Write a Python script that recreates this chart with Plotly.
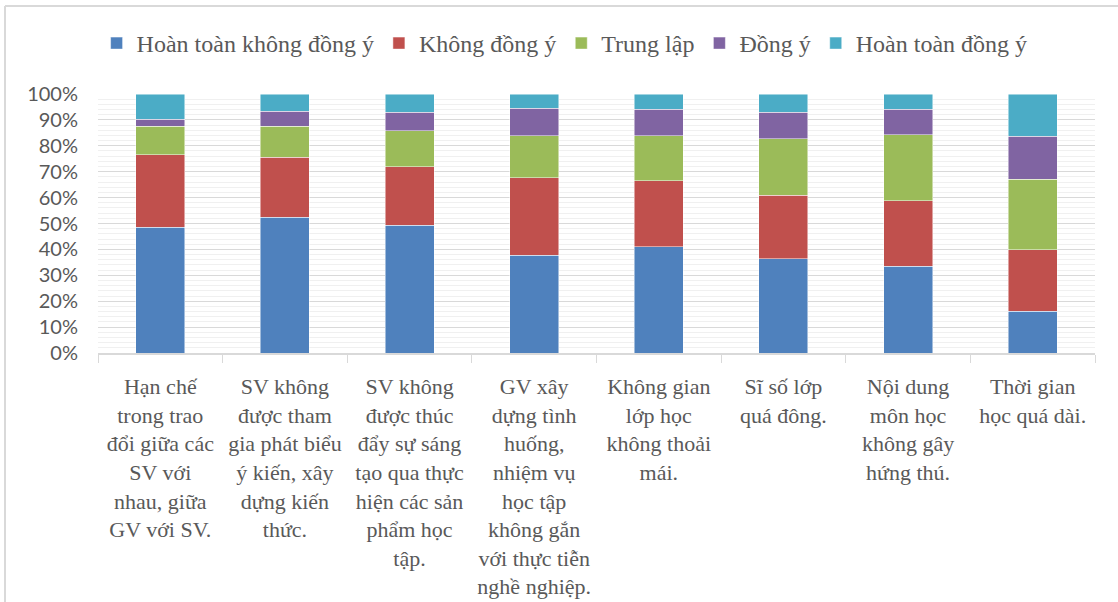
import plotly.graph_objects as go

categories = [
    "Hạn chế<br>trong trao<br>đổi giữa các<br>SV với<br>nhau, giữa<br>GV với SV.",
    "SV không<br>được tham<br>gia phát biểu<br>ý kiến, xây<br>dựng kiến<br>thức.",
    "SV không<br>được thúc<br>đẩy sự sáng<br>tạo qua thực<br>hiện các sản<br>phẩm học<br>tập.",
    "GV xây<br>dựng tình<br>huống,<br>nhiệm vụ<br>học tập<br>không gắn<br>với thực tiễn<br>nghề nghiệp.",
    "Không gian<br>lớp học<br>không thoải<br>mái.",
    "Sĩ số lớp<br>quá đông.",
    "Nội dung<br>môn học<br>không gây<br>hứng thú.",
    "Thời gian<br>học quá dài.",
]

series_names = ["Hoàn toàn không đồng ý", "Không đồng ý", "Trung lập", "Đồng ý", "Hoàn toàn đồng ý"]

hoan_toan_khong_dong_y = [48.6, 52.5, 49.3, 37.8, 41.0, 36.3, 33.5, 16.1]
khong_dong_y = [28.0, 23.0, 22.6, 29.8, 25.6, 24.7, 25.3, 23.8]
trung_lap = [10.9, 12.0, 14.0, 16.3, 17.3, 21.7, 25.5, 27.2]
dong_y = [2.7, 5.8, 7.1, 10.6, 10.3, 10.3, 9.9, 16.6]
hoan_toan_dong_y = [9.8, 6.7, 7.0, 5.5, 5.8, 7.0, 5.8, 16.3]

colors = ["#4F81BD", "#C0504D", "#9BBB59", "#8064A2", "#4BACC6"]

series_values = [hoan_toan_khong_dong_y, khong_dong_y, trung_lap, dong_y, hoan_toan_dong_y]

fig = go.Figure()
for name, vals, col in zip(series_names, series_values, colors):
    fig.add_trace(go.Bar(
        x=categories, y=vals, name=name,
        marker=dict(color=col, line=dict(color="rgba(255,255,255,0.6)", width=0.8)),
    ))

TEXT = "#595959"
GRID = "#d9d9d9"

fig.update_layout(
    width=1118, height=602,
    barmode="stack", barnorm="fraction", bargap=0.607,
    margin=dict(l=98, r=23, t=94, b=249),
    paper_bgcolor="white", plot_bgcolor="white",
    legend=dict(
        orientation="h", x=0.468, xanchor="center", y=1.195, yanchor="middle",
        font=dict(family="Liberation Serif", size=24, color=TEXT),
        itemwidth=30, traceorder="normal",
    ),
    xaxis=dict(
        type="category", tickson="boundaries", ticks="outside", ticklen=8,
        tickcolor=GRID, showline=True, linecolor=GRID, linewidth=1.5,
        showgrid=False, ticklabelstandoff=13, automargin=False,
        tickfont=dict(family="Liberation Serif", size=22, color=TEXT),
    ),
    yaxis=dict(
        range=[0, 1], tickformat=".0%", dtick=0.1,
        showgrid=True, gridcolor=GRID, gridwidth=1.3,
        minor=dict(dtick=0.02, showgrid=True, gridcolor="#f0f0f0", gridwidth=1),
        showline=False, zeroline=False, ticks="",
        ticklabelstandoff=19, automargin=False,
        tickfont=dict(family="Lato", size=20, color=TEXT),
    ),
    shapes=[
        dict(type="line", xref="paper", yref="paper",
             x0=(5 - 98) / 997, x1=(1118 - 98) / 997,
             y0=(353 - 6) / 259, y1=(353 - 6) / 259,
             line=dict(color=GRID, width=2)),
        dict(type="line", xref="paper", yref="paper",
             x0=(5 - 98) / 997, x1=(5 - 98) / 997,
             y0=(353 - 6) / 259, y1=(353 - 602) / 259,
             line=dict(color=GRID, width=2)),
    ],
)

fig.write_html("out.html", config={"displayModeBar": False},
               post_script="document.body.style.margin='0px';")
